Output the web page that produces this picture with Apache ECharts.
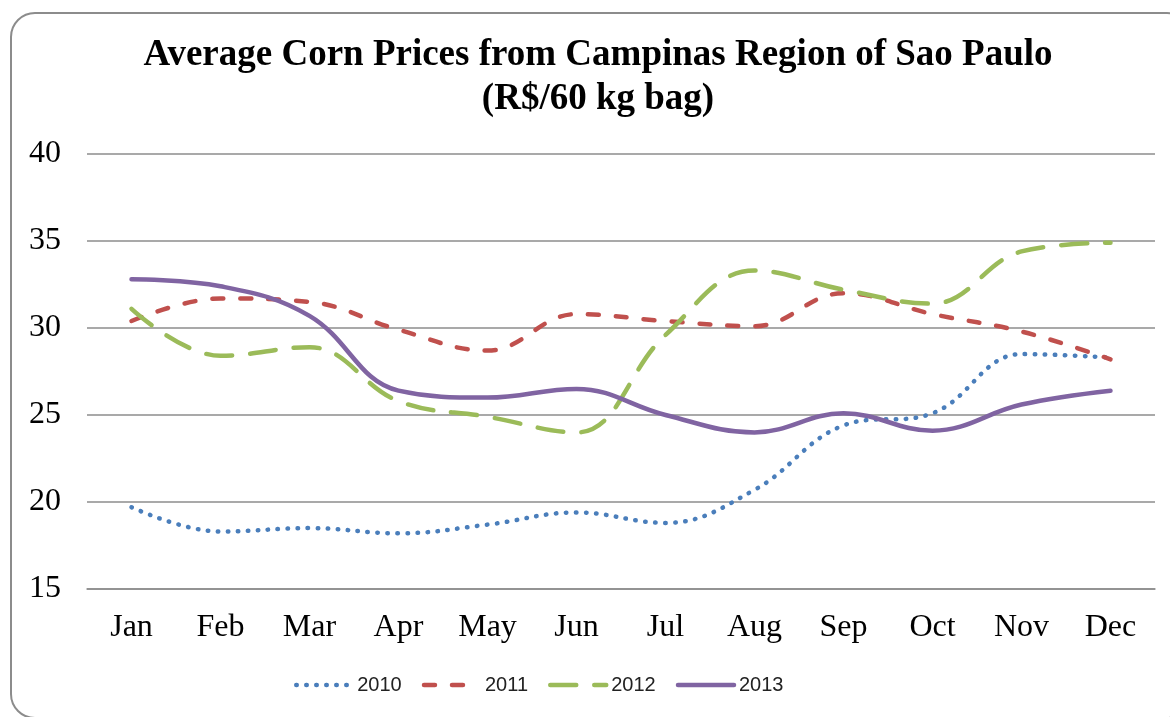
<!DOCTYPE html>
<html>
<head>
<meta charset="utf-8">
<script src="https://cdn.jsdelivr.net/npm/echarts@6/dist/echarts.min.js"></script>
<style>
  html, body { margin: 0; padding: 0; background: #fff; }
  #chart { width: 1170px; height: 717px; }
</style>
</head>
<body>
<div id="chart"></div>
<script>
const months = ['Jan','Feb','Mar','Apr','May','Jun','Jul','Aug','Sep','Oct','Nov','Dec'];
const yTicks = [15, 20, 25, 30, 35, 40];
const s2010 = [19.7, 18.3, 18.5, 18.2, 18.7, 19.4, 18.8, 20.7, 24.4, 25.1, 28.5, 28.3];
const s2011 = [30.4, 31.7, 31.5, 29.9, 28.7, 30.8, 30.4, 30.1, 32.0, 30.8, 29.8, 28.2];
const s2012 = [31.1, 28.4, 28.9, 25.8, 24.9, 24.0, 29.6, 33.3, 32.2, 31.4, 34.4, 34.9];
const s2013 = [32.8, 32.4, 30.7, 26.4, 26.0, 26.5, 25.0, 24.0, 25.1, 24.1, 25.6, 26.4];
const seriesNames = ['2010', '2011', '2012', '2013'];
const titleLines = ['Average Corn Prices from Campinas Region of Sao Paulo', '(R$/60 kg bag)'];

const chart = echarts.init(document.getElementById('chart'), null, { renderer: 'canvas' });

const serif = "'Liberation Serif', 'Times New Roman', serif";
const lw = 4.5;

function mkSeries(name, data, color, type) {
  return {
    name: name,
    type: 'line',
    data: data,
    smooth: 0.4,
    showSymbol: false,
    symbol: 'none',
    lineStyle: { color: color, width: lw, type: type, cap: 'round', join: 'round' },
    itemStyle: { color: color }
  };
}

chart.setOption({
  animation: false,
  backgroundColor: '#fff',
  graphic: [{
    type: 'rect',
    shape: { x: 11, y: 13, width: 1180, height: 705, r: 24 },
    style: { fill: 'none', stroke: '#8c8c8c', lineWidth: 2 },
    z: -1
  }, {
    type: 'text',
    x: 598,
    y: 33,
    style: {
      text: titleLines.join('\n'),
      fill: '#000',
      font: "bold 37px 'Liberation Serif', 'Times New Roman', serif",
      lineHeight: 44,
      align: 'center',
      verticalAlign: 'top'
    }
  }],
  legend: {
    data: seriesNames,
    left: 289,
    top: 670,
    itemWidth: 56,
    itemHeight: 12,
    itemGap: 20,
    itemStyle: { opacity: 0 },
    lineStyle: { width: 4.5, cap: 'round' },
    textStyle: {
      fontFamily: "'Liberation Sans', Arial, sans-serif",
      fontSize: 20,
      color: '#222'
    }
  },
  grid: { left: 87, right: 15, top: 154, height: 435, containLabel: false },
  xAxis: {
    type: 'category',
    data: months,
    boundaryGap: true,
    axisLine: { lineStyle: { color: '#8c8c8c', width: 1.5 } },
    axisTick: { show: false },
    axisLabel: { fontFamily: serif, fontSize: 32, color: '#000', margin: 23 }
  },
  yAxis: {
    type: 'value',
    min: yTicks[0],
    max: yTicks[yTicks.length - 1],
    interval: 5,
    axisLine: { show: false },
    axisTick: { show: false },
    splitLine: { lineStyle: { color: '#8c8c8c', width: 1.5 } },
    axisLabel: { fontFamily: serif, fontSize: 32, color: '#000', margin: 26 }
  },
  series: [
    mkSeries(seriesNames[0], s2010, '#4a7ebb', [0.5, 9.5]),
    mkSeries(seriesNames[1], s2011, '#c0504d', [11, 17]),
    mkSeries(seriesNames[2], s2012, '#9bbb59', [26, 18]),
    mkSeries(seriesNames[3], s2013, '#8064a2', 'solid')
  ]
});
</script>
</body>
</html>
